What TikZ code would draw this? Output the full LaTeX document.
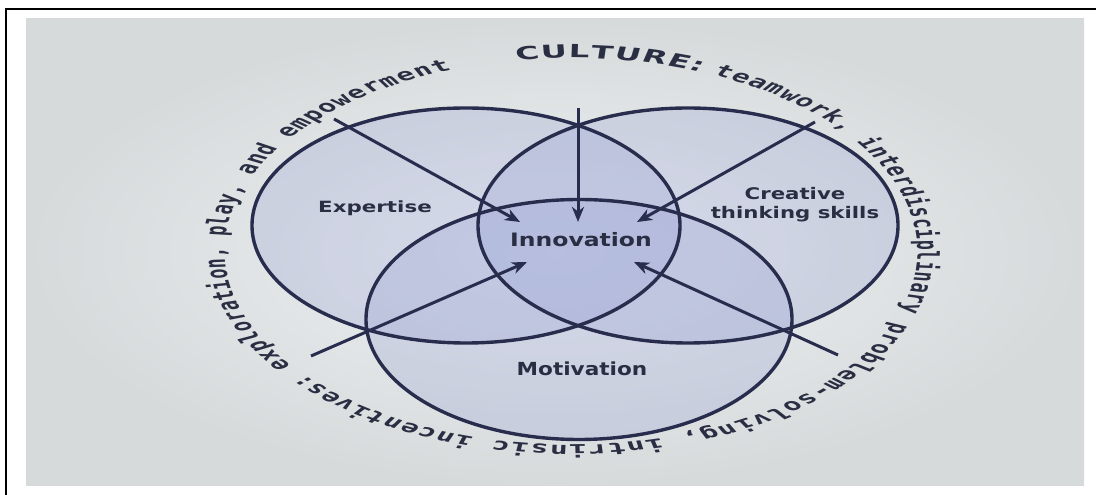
\documentclass[tikz,border=0pt]{standalone}
\usepackage{fontspec}
\usetikzlibrary{decorations.text, arrows.meta}
\newfontfamily\labfont{DejaVu Sans}
\newfontfamily\ringmono{DejaVu Sans Mono}
\definecolor{ink}{RGB}{40,45,78}
\definecolor{txt}{RGB}{42,46,66}
\definecolor{venn}{RGB}{150,160,212}
\definecolor{bgin}{RGB}{240,242,244}
\definecolor{bgout}{RGB}{214,218,219}
\newcommand\ringcapsfont{\labfont\bfseries\fontsize{18}{20}\selectfont\color{txt}}
\newcommand\ringtextfont{\ringmono\bfseries\fontsize{16.5}{20}\selectfont\color{txt}}
\begin{document}
\begin{tikzpicture}[x=1pt,y=1pt,
  vennfill/.style={fill=venn, fill opacity=0.28},
  vennline/.style={draw=ink, line width=3.4pt},
  feed/.style={draw=ink, line width=3pt, -{Stealth[length=15pt,width=12pt,inset=4.5pt]}},
  lab/.style={font=\labfont\bfseries, text=txt, inner sep=0pt},
]
\useasboundingbox (0,0) rectangle (1096,495);
% photo background and frame
\shade[inner color=bgin, outer color=bgout] (26,9) rectangle (1084,476);
\draw[line width=2.2pt] (6,0) -- (6,486) -- (1096,486);

% ring text (photo is stretched horizontally)
\begin{scope}[transform canvas={shift={(571pt,243.5pt)}, xscale=1.79}]
  \path[decorate, decoration={text along path, text align={fit to path},
    text={|\ringcapsfont|CULTURE: |\ringtextfont|teamwork, interdisciplinary problem-solving, intrinsic incentives: exploration, play, and empowerment}}]
    (99:193.5pt) arc[start angle=99, end angle=-249.9, radius=193.5pt];
\end{scope}

% Venn circles
\fill[vennfill] (466,269.5) ellipse [x radius=214pt, y radius=117.5pt];
\fill[vennfill] (688,269.5) ellipse [x radius=210pt, y radius=117.5pt];
\fill[vennfill] (579,175.5) ellipse [x radius=213pt, y radius=120pt];
\draw[vennline] (466,269.5) ellipse [x radius=214pt, y radius=117.5pt];
\draw[vennline] (688,269.5) ellipse [x radius=210pt, y radius=117.5pt];
\draw[vennline] (579,175.5) ellipse [x radius=213pt, y radius=120pt];

% labels
\node[lab, font=\labfont\bfseries\fontsize{18.5}{22}\selectfont, anchor=base, xscale=1.27] (inn) at (581,248) {Innovation};
\node[lab, font=\labfont\bfseries\fontsize{15.5}{19}\selectfont, anchor=base, xscale=1.38] (exp) at (375,282) {Expertise};
\node[lab, font=\labfont\bfseries\fontsize{16}{19}\selectfont, anchor=north, align=center, xscale=1.33] (cre) at (795,308) {Creative\\thinking skills};
\node[lab, font=\labfont\bfseries\fontsize{18}{22}\selectfont, anchor=base, xscale=1.2] (mot) at (582,119) {Motivation};

% arrows toward Innovation
\coordinate (s1) at (334,376);
\coordinate (t1) at (520,273);
\coordinate (s2) at (578,387);
\coordinate (t2) at (578,273);
\coordinate (s3) at (815,373);
\coordinate (t3) at (637,273);
\coordinate (s4) at (311,139);
\coordinate (t4) at (527,233);
\coordinate (s5) at (838,140);
\coordinate (t5) at (634,233);
\draw[feed] (s1) -- (t1);
\draw[feed] (s2) -- (t2);
\draw[feed] (s3) -- (t3);
\draw[feed] (s4) -- (t4);
\draw[feed] (s5) -- (t5);
\end{tikzpicture}
\end{document}
